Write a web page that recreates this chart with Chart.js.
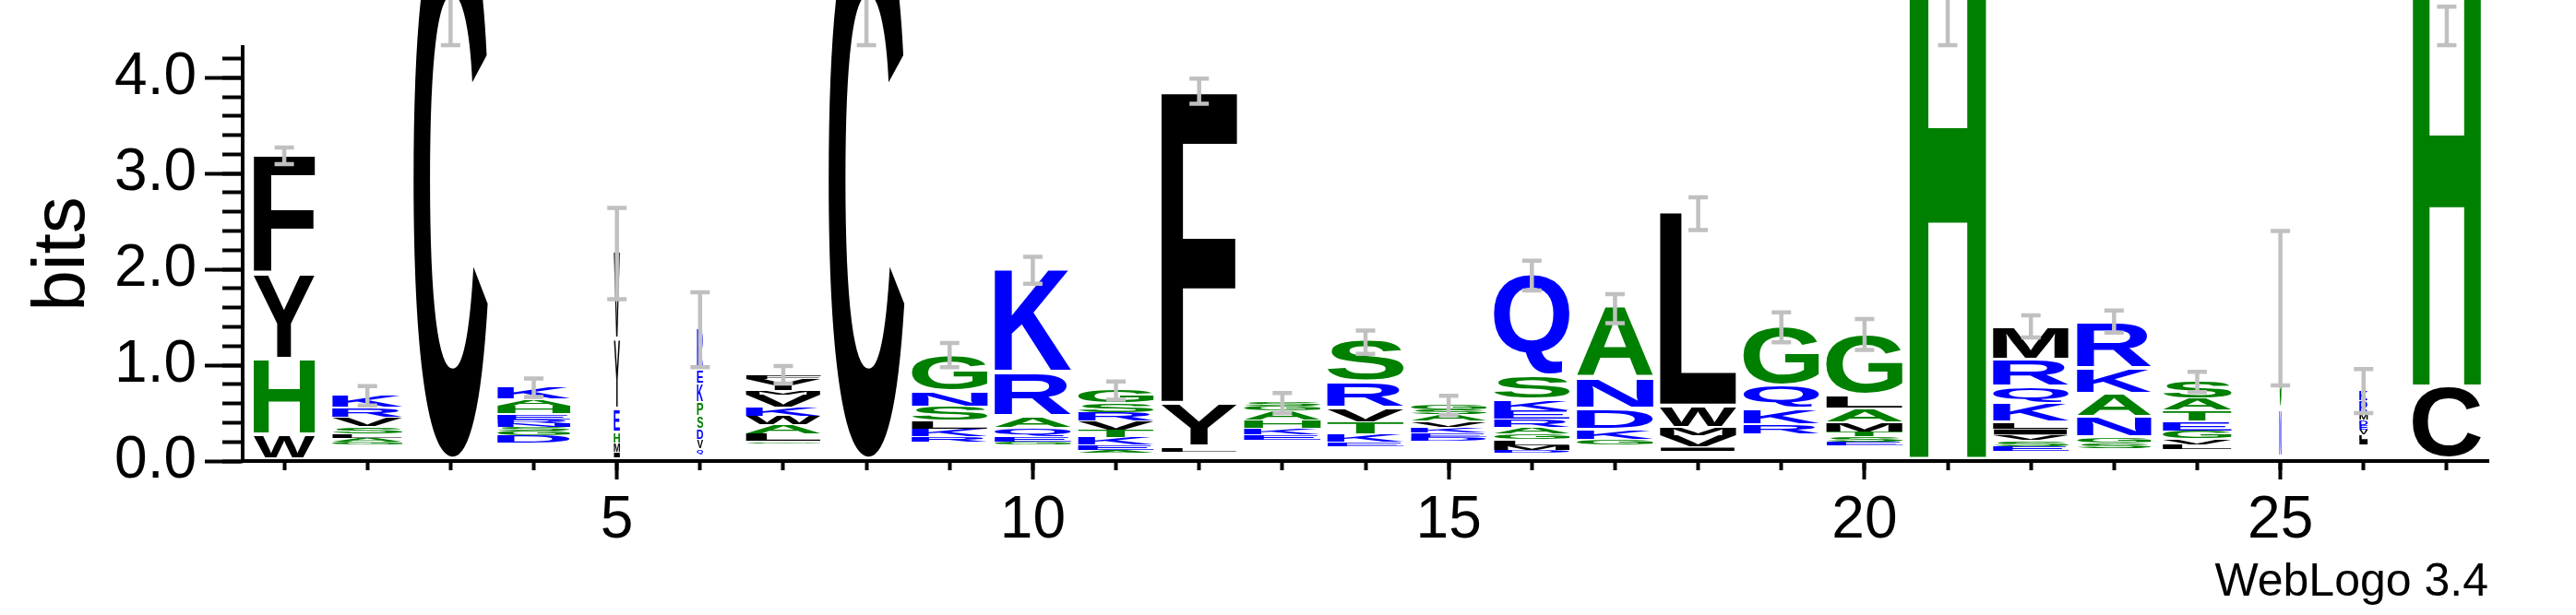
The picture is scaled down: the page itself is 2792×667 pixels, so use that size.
<!DOCTYPE html>
<html>
<head>
<meta charset="utf-8">
<script src="https://cdn.jsdelivr.net/npm/chart.js@4/dist/chart.umd.min.js"></script>
<style>
  html, body { margin: 0; padding: 0; background: #ffffff; }
  #wrap { width: 2792px; height: 667px; }
</style>
</head>
<body>
<div id="wrap"><canvas id="c" width="2792" height="667"></canvas></div>
<script>
// ---------------- DATA ----------------
const positions = ['1','2','3','4','5','6','7','8','9','10','11','12','13','14','15','16','17','18','19','20','21','22','23','24','25','26','27'];
const xTickLabels = ['5','10','15','20','25'];
const yTickLabels = ['0.0','1.0','2.0','3.0','4.0'];

// letters of each column, bottom -> top ('.' = faint residues, not drawn)
const stackLetters = [
  'WHYF', '.GALSVRK', 'C', '.DGSNREHAK', '.IMHEYV', '.QVDSPKER', '.GLAWKVMYF', 'C',
  '.RKLSNG', '.GEQARK', '.AEKTVRSG', '.LYF', '.EKHAGS', '.EKTVRS', '.DEKVASG',
  '.DMLGAREKSQ', '.GKDNA', '.IVMWL', '.RKQG', '.ESTMALG', 'H', '.ESVILKQRM',
  '.SGNAKR', '.LVGETAS', '.NG', '.ILVEDMRK', 'CH'
];
// letter heights in bits, same order
const stackHeights = [
  [0.26, 0.79, 0.89, 1.24],
  [0.17, 0.03, 0.04, 0.04, 0.07, 0.10, 0.10, 0.12],
  [5.80],
  [0.18, 0.08, 0.05, 0.04, 0.04, 0.04, 0.06, 0.08, 0.07, 0.13],
  [0.03, 0.05, 0.10, 0.11, 0.24, 0.73, 0.91],
  [0.06, 0.06, 0.10, 0.11, 0.13, 0.14, 0.20, 0.14, 0.44],
  [0.18, 0.02, 0.08, 0.09, 0.09, 0.09, 0.14, 0.04, 0.12, 0.04],
  [5.80],
  [0.20, 0.05, 0.08, 0.08, 0.15, 0.15, 0.38],
  [0.17, 0.03, 0.05, 0.09, 0.11, 0.46, 1.08],
  [0.08, 0.03, 0.05, 0.08, 0.08, 0.09, 0.09, 0.10, 0.14],
  [0.09, 0.04, 0.46, 3.27],
  [0.22, 0.05, 0.07, 0.08, 0.10, 0.05, 0.04],
  [0.15, 0.04, 0.08, 0.13, 0.14, 0.27, 0.44],
  [0.21, 0.04, 0.04, 0.06, 0.06, 0.07, 0.05, 0.06],
  [0.08, 0.03, 0.05, 0.06, 0.06, 0.07, 0.08, 0.09, 0.11, 0.25, 1.06],
  [0.17, 0.05, 0.10, 0.21, 0.32, 0.74],
  [0.10, 0.04, 0.12, 0.08, 0.22, 2.03],
  [0.28, 0.10, 0.16, 0.23, 0.62],
  [0.16, 0.04, 0.05, 0.05, 0.10, 0.14, 0.13, 0.63],
  [5.80],
  [0.10, 0.05, 0.06, 0.06, 0.06, 0.07, 0.19, 0.17, 0.28, 0.35],
  [0.13, 0.05, 0.06, 0.21, 0.24, 0.26, 0.49],
  [0.12, 0.05, 0.06, 0.08, 0.10, 0.11, 0.12, 0.19],
  [0.03, 0.50, 1.06],
  [0.17, 0.05, 0.05, 0.05, 0.05, 0.05, 0.07, 0.13, 0.11],
  [0.76, 4.40]
];
// fraction of sequences occupying each column (stack width)
const occupancy = [0.80, 0.92, 0.97, 0.95, 0.08, 0.08, 0.98, 0.99, 0.99, 1.00, 0.99, 0.99, 1.00, 1.00,
                   0.99, 0.99, 1.00, 1.00, 0.99, 1.00, 1.00, 0.99, 0.97, 0.90, 0.025, 0.11, 0.89];
// error bar ranges (bits)
const errLow  = [3.08, 0.56, 4.32, 0.65, 1.67, 0.96, 0.79, 4.32, 0.96, 1.83, 0.62, 3.71, 0.48, 1.10,
                 0.46, 1.76, 1.42, 2.39, 1.22, 1.14, 4.32, 1.27, 1.32, 0.70, 0.77, 0.48, 4.32];
const errHigh = [3.29, 0.80, 4.95, 0.88, 2.66, 1.78, 1.01, 4.95, 1.25, 2.15, 0.85, 4.01, 0.73, 1.38,
                 0.70, 2.11, 1.76, 2.77, 1.57, 1.50, 4.95, 1.54, 1.59, 0.95, 2.42, 0.98, 4.76];

// ---------------- STYLE ----------------
const BLACK = '#000000', BLUE = '#0000ff', GREEN = '#008000';
const letterColor = {
  C: BLACK, F: BLACK, Y: BLACK, W: BLACK, L: BLACK, M: BLACK, V: BLACK, I: BLACK,
  N: BLUE, Q: BLUE, K: BLUE, R: BLUE, D: BLUE, E: BLUE,
  H: GREEN, G: GREEN, S: GREEN, T: GREEN, A: GREEN, P: GREEN
};
const glyphFont = 'bold 200px "Liberation Sans", Arial, sans-serif';

Chart.defaults.font.family = '"Liberation Sans", Arial, Helvetica, sans-serif';
Chart.defaults.color = '#000';

// ---------------- datasets (one per stack layer) ----------------
const nLayers = Math.max(...stackHeights.map(s => s.length));
const datasets = [];
for (let k = 0; k < nLayers; k++) {
  datasets.push({
    label: 'layer ' + (k + 1),
    data: stackHeights.map(s => (s[k] !== undefined ? s[k] : 0)),
    letters: stackLetters.map(s => s[k] || ''),
    backgroundColor: 'rgba(0,0,0,0)',
    borderWidth: 0,
    xAxisID: 'x',
    yAxisID: 'y',
    barPercentage: 0.92,
    categoryPercentage: 1.0
  });
}

function drawGlyph(ctx, ch, x0, y0, w, h, color) {
  ctx.font = glyphFont;
  const m = ctx.measureText(ch);
  const gl = m.actualBoundingBoxLeft, gr = m.actualBoundingBoxRight;
  const ga = m.actualBoundingBoxAscent, gd = m.actualBoundingBoxDescent;
  const gw = gl + gr, gh = ga + gd;
  if (gw <= 0 || gh <= 0 || w <= 0 || h <= 0) return;
  ctx.save();
  ctx.translate(x0, y0);
  ctx.scale(w / gw, h / gh);
  ctx.fillStyle = color;
  ctx.textAlign = 'left';
  ctx.textBaseline = 'alphabetic';
  ctx.fillText(ch, gl, ga);
  ctx.restore();
}

const logoPlugin = {
  id: 'logoLetters',
  afterDatasetsDraw(chart) {
    const ctx = chart.ctx;
    chart.data.datasets.forEach((ds, k) => {
      const meta = chart.getDatasetMeta(k);
      meta.data.forEach((bar, i) => {
        const ch = ds.letters[i];
        if (!ch || ch === '.') return;
        const p = bar.getProps(['x', 'y', 'base', 'width'], true);
        const top = Math.min(p.y, p.base), bottom = Math.max(p.y, p.base);
        const h = bottom - top;
        if (h < 0.5) return;
        const gap = Math.min(4, h * 0.12);
        const w = p.width * occupancy[i];
        drawGlyph(ctx, ch, p.x - w / 2, top, w, h - gap, letterColor[ch] || BLACK);
      });
    });
    // error bars
    const xs = chart.scales.x, ys = chart.scales.y;
    ctx.save();
    ctx.strokeStyle = '#c0c0c0';
    ctx.lineWidth = 4.5;
    ctx.lineCap = 'butt';
    for (let i = 0; i < positions.length; i++) {
      const x = xs.getPixelForValue(i);
      const y1 = ys.getPixelForValue(errLow[i]);
      const y2 = ys.getPixelForValue(errHigh[i]);
      ctx.beginPath();
      ctx.moveTo(x, y1); ctx.lineTo(x, y2);
      ctx.moveTo(x - 10.5, y1 - 2); ctx.lineTo(x + 10.5, y1 - 2);
      ctx.moveTo(x - 10.5, y2 + 2); ctx.lineTo(x + 10.5, y2 + 2);
      ctx.stroke();
    }
    ctx.restore();
  }
};

new Chart(document.getElementById('c'), {
  type: 'bar',
  data: { labels: positions, datasets },
  plugins: [logoPlugin],
  options: {
    responsive: false,
    devicePixelRatio: 1,
    animation: false,
    layout: { padding: { top: 51, right: 95, left: 0, bottom: 0 } },
    plugins: { legend: { display: false }, tooltip: { enabled: false } },
    scales: {
      x: {
        type: 'category', axis: 'x', position: 'bottom', stacked: true, offset: true,
        grid: {
          display: true, drawOnChartArea: false, drawTicks: true, offset: false,
          tickLength: 20, tickWidth: 4,
          tickColor: (c) => (xTickLabels.includes(positions[c.index]) ? '#000' : 'rgba(0,0,0,0)')
        },
        border: { display: true, color: '#000', width: 4 },
        ticks: {
          autoSkip: false, maxRotation: 0, minRotation: 0, padding: 7, color: '#000',
          font: { size: 64 },
          callback: (v, i) => (xTickLabels.includes(positions[i]) ? positions[i] : '')
        },
        title: {
          display: true, text: 'WebLogo 3.4', align: 'end', color: '#000',
          font: { size: 50 }, padding: { top: 0, bottom: 5 }
        },
        afterFit: (s) => { s.height = 167; }
      },
      x2: {
        type: 'category', axis: 'x', position: { y: 0 }, offset: true,
        grid: { display: true, drawOnChartArea: false, drawTicks: true, offset: false,
                tickLength: 10, tickWidth: 4, tickColor: '#000' },
        border: { display: false },
        ticks: { display: false, autoSkip: false }
      },
      y: {
        type: 'linear', axis: 'y', position: 'left', stacked: true, min: 0, max: 4.32,
        grid: { display: true, drawOnChartArea: false, drawTicks: true,
                tickLength: 41, tickWidth: 4, tickColor: '#000' },
        border: { display: true, color: '#000', width: 4 },
        ticks: {
          stepSize: 1, includeBounds: false, padding: 9, color: '#000',
          font: { size: 64 },
          callback: (v, i) => (yTickLabels[i] !== undefined ? yTickLabels[i] : '')
        },
        title: { display: true, text: 'bits', color: '#000', font: { size: 80 },
                 padding: { top: 21, bottom: 0 } },
        afterFit: (s) => { s.width = 263; }
      },
      y2: {
        type: 'linear', axis: 'y', position: { x: -0.5 }, min: 0, max: 4.32,
        grid: { display: true, drawOnChartArea: false, drawTicks: true,
                tickLength: 22, tickWidth: 4, tickColor: '#000' },
        border: { display: false },
        ticks: { display: false, stepSize: 0.2, includeBounds: false }
      }
    }
  }
});
</script>
</body>
</html>
